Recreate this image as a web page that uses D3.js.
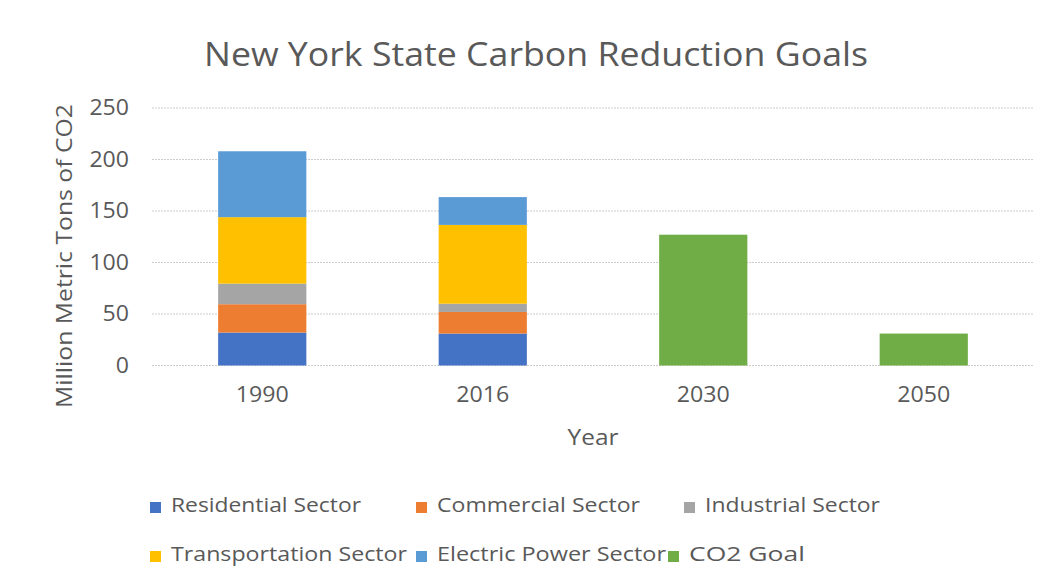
<!DOCTYPE html>
<html>
<head>
<meta charset="utf-8">
<script src="https://cdn.jsdelivr.net/npm/d3@7"></script>
<style>
  body { margin: 0; background: #fff; }
  svg { display: block; font-family: "Open Sans", sans-serif; }
</style>
</head>
<body>
<div id="chart"></div>
<script>
// values
var years = ["1990", "2016", "2030", "2050"];
var residential = [32, 31, 0, 0];
var commercial = [27.5, 21, 0, 0];
var industrial = [20, 8, 0, 0];
var transportation = [64.5, 76.5, 0, 0];
var electric = [64, 27, 0, 0];
var co2Goal = [0, 0, 127, 31];
var seriesNames = ["Residential Sector", "Commercial Sector", "Industrial Sector",
  "Transportation Sector", "Electric Power Sector", "CO2 Goal"];
var yTicks = [0, 50, 100, 150, 200, 250];

var colors = ["#4472C4", "#ED7D31", "#A5A5A5", "#FFC000", "#5B9BD5", "#70AD47"];
var textColor = "#595959";

var W = 1049, H = 581;
var svg = d3.select("#chart").append("svg")
  .attr("width", W)
  .attr("height", H);

// squeeze a text to a wanted width (chart font was narrower)
function fit(sel, w){
  sel.attr("textLength", w).attr("lengthAdjust", "spacingAndGlyphs");
}

var x = d3.scaleBand().domain(years).range([152, 1034])
  .paddingInner(0.6).paddingOuter(0.3);
var y = d3.scaleLinear().domain([0, 250]).range([365.5, 108]);

// gridlines
svg.append("g").selectAll("line")
  .data(yTicks)
  .enter().append("line")
  .attr("x1", 152).attr("x2", 1034)
  .attr("y1", function(d){ return y(d); })
  .attr("y2", function(d){ return y(d); })
  .attr("stroke", "#cccccc")
  .attr("stroke-width", 1)
  .attr("stroke-dasharray", "2,1");

// stacked bars
var rows = years.map(function(yr, i){
  return { year: yr, s0: residential[i], s1: commercial[i], s2: industrial[i],
    s3: transportation[i], s4: electric[i], s5: co2Goal[i] };
});
var stack = d3.stack().keys(["s0", "s1", "s2", "s3", "s4", "s5"]);
var layers = stack(rows);

svg.append("g").selectAll("g")
  .data(layers)
  .enter().append("g")
  .attr("fill", function(d, i){ return colors[i]; })
  .selectAll("rect")
  .data(function(d){ return d.filter(function(p){ return p[1] - p[0] > 0; }); })
  .enter().append("rect")
  .attr("x", function(d){ return x(d.data.year); })
  .attr("width", x.bandwidth())
  .attr("y", function(d){ return y(d[1]); })
  .attr("height", function(d){ return y(d[0]) - y(d[1]); });

// y axis labels
var yAxis = d3.axisLeft(y).tickValues(yTicks).tickSize(0).tickPadding(0);
var gy = svg.append("g").attr("transform", "translate(129,0)").call(yAxis);
gy.select(".domain").remove();
gy.selectAll("text").attr("fill", textColor).style("font-size", "21px")
  .style("font-family", "Open Sans, sans-serif")
  .each(function(d){ d3.select(this).call(fit, String(d).length * 13.2); });

// x axis labels
var xAxis = d3.axisBottom(x).tickSize(0).tickPadding(0);
var gx = svg.append("g").attr("transform", "translate(0,387)").call(xAxis);
gx.select(".domain").remove();
gx.selectAll("text").attr("fill", textColor).style("font-size", "21px")
  .style("font-family", "Open Sans, sans-serif")
  .call(fit, 53);

// title
svg.append("text")
  .attr("x", 536).attr("y", 66)
  .attr("text-anchor", "middle")
  .attr("fill", textColor)
  .style("font-size", "32px")
  .text("New York State Carbon Reduction Goals")
  .call(fit, 664);

// axis titles
svg.append("text")
  .attr("x", 593).attr("y", 445)
  .attr("text-anchor", "middle")
  .attr("fill", textColor)
  .style("font-size", "21px")
  .text("Year")
  .call(fit, 51);

svg.append("text")
  .attr("transform", "translate(72,256) rotate(-90)")
  .attr("text-anchor", "middle")
  .attr("fill", textColor)
  .style("font-size", "21px")
  .text("Million Metric Tons of CO2")
  .call(fit, 304);

// legend
var legendPos = [
  { x: 150, y: 505, w: 190 }, { x: 416, y: 505, w: 203 }, { x: 684, y: 505, w: 175 },
  { x: 150, y: 554, w: 236 }, { x: 416, y: 554, w: 229 }, { x: 668, y: 554, w: 116 }
];
var legend = svg.append("g").selectAll("g")
  .data(seriesNames)
  .enter().append("g")
  .attr("transform", function(d, i){ return "translate(" + legendPos[i].x + "," + legendPos[i].y + ")"; });

legend.append("rect")
  .attr("x", 0).attr("y", -3)
  .attr("width", 11).attr("height", 11)
  .attr("fill", function(d, i){ return colors[i]; });

legend.append("text")
  .attr("x", 21).attr("y", 0)
  .attr("dy", "0.35em")
  .attr("fill", textColor)
  .style("font-size", "20px")
  .text(function(d){ return d; })
  .each(function(d, i){ d3.select(this).call(fit, legendPos[i].w); });
</script>
</body>
</html>
